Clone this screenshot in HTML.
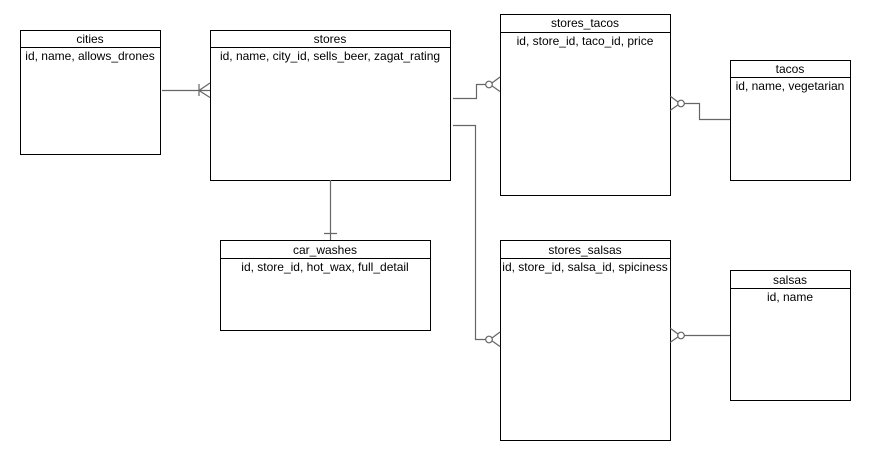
<!DOCTYPE html>
<html><head><style>html,body{margin:0;padding:0;background:#fff;width:872px;height:459px;overflow:hidden}</style></head>
<body>
<svg width="872" height="459" xmlns="http://www.w3.org/2000/svg" font-family="Liberation Sans, sans-serif" font-size="12" fill="#000">
<rect width="872" height="459" fill="#fff"/>
<g fill="#fff" stroke="#000" stroke-width="1">
<rect x="20.5" y="30.5" width="140" height="124"/><line x1="20" y1="47.5" x2="161" y2="47.5"/>
<rect x="210.5" y="30.5" width="240" height="150"/><line x1="210" y1="47.5" x2="451" y2="47.5"/>
<rect x="500.5" y="14.5" width="170" height="181"/><line x1="500" y1="32.5" x2="671" y2="32.5"/>
<rect x="730.5" y="60.5" width="120" height="120"/><line x1="730" y1="77.5" x2="851" y2="77.5"/>
<rect x="220.5" y="240.5" width="210" height="90"/><line x1="220" y1="258.5" x2="431" y2="258.5"/>
<rect x="500.5" y="240.5" width="170" height="200"/><line x1="500" y1="258.5" x2="671" y2="258.5"/>
<rect x="730.5" y="270.5" width="120" height="130"/><line x1="730" y1="288.5" x2="851" y2="288.5"/>
</g>
<g text-anchor="middle">
<text x="90" y="43">cities</text><text x="90" y="60">id, name, allows_drones</text>
<text x="330" y="43">stores</text><text x="330" y="60">id, name, city_id, sells_beer, zagat_rating</text>
<text x="585" y="27">stores_tacos</text><text x="585" y="45">id, store_id, taco_id, price</text>
<text x="790" y="73">tacos</text><text x="790" y="90">id, name, vegetarian</text>
<text x="325" y="254">car_washes</text><text x="325" y="271">id, store_id, hot_wax, full_detail</text>
<text x="585" y="254">stores_salsas</text><text x="585" y="271">id, store_id, salsa_id, spiciness</text>
<text x="790" y="284">salsas</text><text x="790" y="301">id, name</text>
</g>
<g fill="none" stroke="#666" stroke-width="1.2">
<path d="M162 90.5H210M199 84v12M210 83l-11 7.5 11 7"/>
<path d="M330.5 180V240M324 233.5h13"/>
<path d="M453 98.5H476.5V84.5H486M500 77l-10 7.5 10 7"/>
<circle cx="489" cy="84.5" r="3.3" fill="#fff"/>
<path d="M453 125.5H475.5V339.5H486M500 332l-10 7.5 10 7"/>
<circle cx="489" cy="339.5" r="3.3" fill="#fff"/>
<path d="M684 103.5H699.5V119.5H730M670 96l10 7.5-10 7"/>
<circle cx="681" cy="103.5" r="3.3" fill="#fff"/>
<path d="M684 335.5H730M670 328l10 7.5-10 7"/>
<circle cx="681" cy="335.5" r="3.3" fill="#fff"/>
</g>
</svg>
</body></html>
